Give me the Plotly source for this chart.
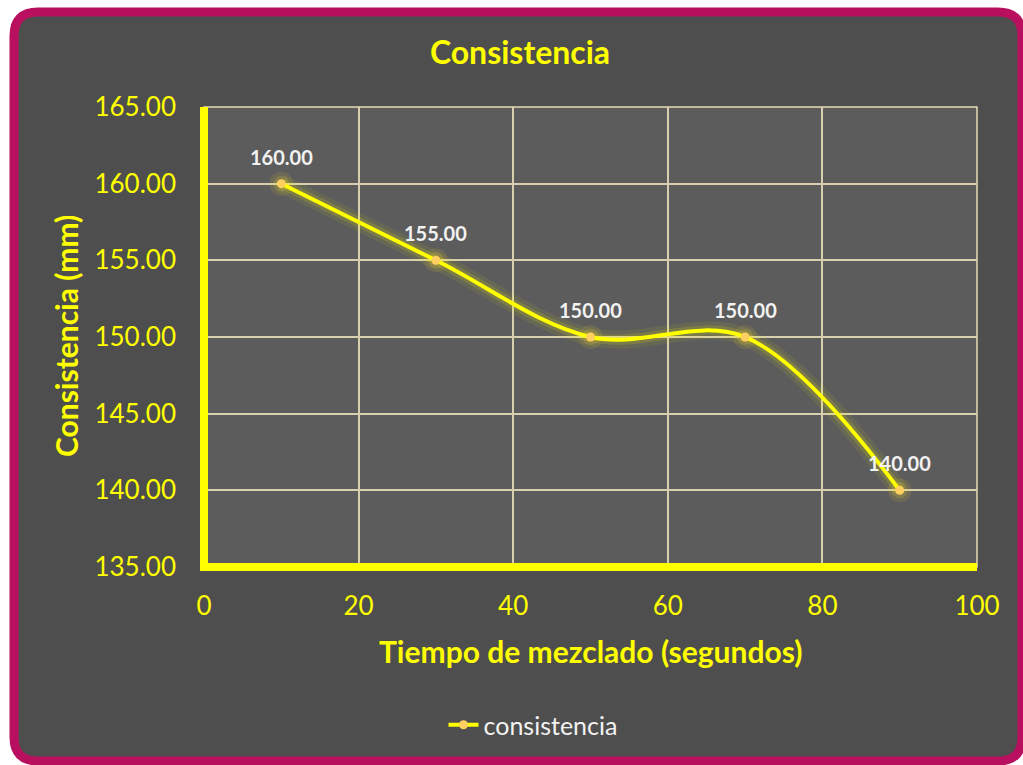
import plotly.graph_objects as go

# Mixing time (s) vs. measured consistency (mm)
tiempo = [10, 30, 50, 70, 90]
consistencia = [160.00, 155.00, 150.00, 150.00, 140.00]
x_ticks = [0, 20, 40, 60, 80, 100]
y_ticks = [135, 140, 145, 150, 155, 160, 165]

W, H = 1023, 765
ML, MR, MT, MB = 204, 46, 107, 198
PW, PH = W - ML - MR, H - MT - MB

YELLOW = "#ffff00"
GRID = "#d8cfae"
FONT = "Lato"


def px(xp):
    return (xp - ML) / PW


def py(yp):
    return (H - MB - yp) / PH


def rounded_rect(x0, y0, x1, y1, r):
    # rounded rectangle in pixel space, converted to paper coordinates
    pts = [
        ("M", [(x0 + r, y0)]),
        ("L", [(x1 - r, y0)]),
        ("Q", [(x1, y0), (x1, y0 + r)]),
        ("L", [(x1, y1 - r)]),
        ("Q", [(x1, y1), (x1 - r, y1)]),
        ("L", [(x0 + r, y1)]),
        ("Q", [(x0, y1), (x0, y1 - r)]),
        ("L", [(x0, y0 + r)]),
        ("Q", [(x0, y0), (x0 + r, y0)]),
    ]
    out = []
    for cmd, coords in pts:
        out.append(cmd + " ".join(f"{px(a):.5f},{py(b):.5f}" for a, b in coords))
    return " ".join(out) + " Z"


fig = go.Figure()

# soft glow under the curve
for w, a in [(18, 0.07), (10, 0.14)]:
    fig.add_trace(go.Scatter(
        x=tiempo, y=consistencia, mode="lines",
        line=dict(color=f"rgba(255,255,0,{a})", width=w, shape="spline", smoothing=1.0),
        hoverinfo="skip", showlegend=False,
    ))
for s, a in [(24, 0.10), (16, 0.16)]:
    fig.add_trace(go.Scatter(
        x=tiempo, y=consistencia, mode="markers",
        marker=dict(color=f"rgba(255,225,40,{a})", size=s, line=dict(width=0)),
        hoverinfo="skip", showlegend=False,
    ))

fig.add_trace(go.Scatter(
    x=tiempo, y=consistencia, mode="lines+markers", name="consistencia",
    line=dict(color=YELLOW, width=4, shape="spline", smoothing=1.0),
    marker=dict(color="#ffd060", size=9, line=dict(width=0)),
))

# value labels above each point
for xv, yv in zip(tiempo, consistencia):
    fig.add_annotation(
        x=xv, y=yv, text=f"<b>{yv:.2f}</b>", showarrow=False,
        yshift=27, font=dict(family=FONT, size=20, color="#f2f2f2"),
    )

shapes = [
    # card with magenta rounded border
    dict(type="path", xref="paper", yref="paper", layer="below",
         path=rounded_rect(14, 12, 1022, 761, 24),
         fillcolor="#4e4e4e", line=dict(color="#b80f5e", width=9)),
    # plot area
    dict(type="rect", xref="paper", yref="paper", layer="below",
         x0=0, x1=1, y0=0, y1=1, fillcolor="#5c5c5c",
         line=dict(color="#e6dcb8", width=1.5)),
    # thick yellow axis lines
    dict(type="line", xref="paper", yref="paper", layer="above",
         x0=0, x1=0, y0=py(571), y1=1, line=dict(color=YELLOW, width=8)),
    dict(type="line", xref="paper", yref="paper", layer="above",
         x0=px(200), x1=1, y0=0, y1=0, line=dict(color=YELLOW, width=8)),
]

annotations_axes = [
    dict(text="<b>Tiempo de mezclado (segundos)</b>", xref="paper", yref="paper",
         x=0.5, y=py(651), xanchor="center", yanchor="middle", showarrow=False,
         font=dict(family=FONT, size=30, color=YELLOW)),
    dict(text="<b>Consistencia (mm)</b>", xref="paper", yref="paper",
         x=px(66), y=py(336), xanchor="center", yanchor="middle", showarrow=False,
         textangle=-90, font=dict(family=FONT, size=30, color=YELLOW)),
]
for a in annotations_axes:
    fig.add_annotation(**a)

fig.update_layout(
    width=W, height=H,
    margin=dict(l=ML, r=MR, t=MT, b=MB, autoexpand=False),
    paper_bgcolor="white",
    plot_bgcolor="rgba(0,0,0,0)",
    shapes=shapes,
    title=dict(text="<b>Consistencia</b>", x=520 / W, xref="container",
               y=1 - 53 / H, yref="container", xanchor="center", yanchor="middle",
               font=dict(family=FONT, size=32, color=YELLOW)),
    xaxis=dict(range=[0, 100], tickvals=x_ticks, ticktext=[str(v) for v in x_ticks],
               showgrid=True, gridcolor=GRID, gridwidth=1.5, zeroline=False,
               showline=False, ticks="", ticklabelstandoff=21,
               tickfont=dict(family=FONT, size=26, color=YELLOW)),
    yaxis=dict(range=[135, 165], tickvals=y_ticks, ticktext=[f"{v:.2f}" for v in y_ticks],
               showgrid=True, gridcolor=GRID, gridwidth=1.5, zeroline=False,
               showline=False, ticks="", ticklabelstandoff=27,
               tickfont=dict(family=FONT, size=26, color=YELLOW)),
    showlegend=True,
    legend=dict(orientation="h", x=533 / W, xref="container", xanchor="center",
                y=1 - 725 / H, yref="container", yanchor="middle",
                bgcolor="rgba(0,0,0,0)", font=dict(family=FONT, size=25, color="#f2f2f2")),
)

fig.write_html("out.html")
